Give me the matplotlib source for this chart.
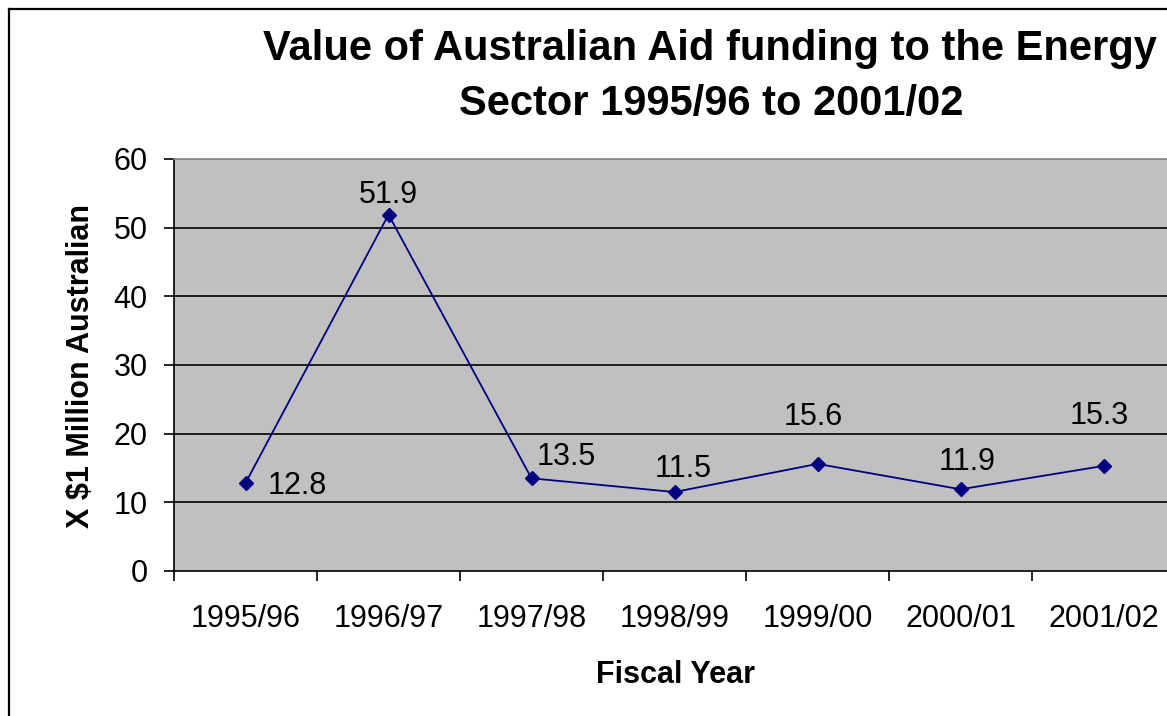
import matplotlib
matplotlib.use("Agg")
import matplotlib.pyplot as plt
from matplotlib.lines import Line2D
from matplotlib.ticker import FixedLocator, NullFormatter

categories = ["1995/96", "1996/97", "1997/98", "1998/99", "1999/00", "2000/01", "2001/02"]
values = [12.8, 51.9, 13.5, 11.5, 15.6, 11.9, 15.3]
label_texts = ["12.8", "51.9", "13.5", "11.5", "15.6", "11.9", "15.3"]
y_ticks = [0, 10, 20, 30, 40, 50, 60]

# label offsets in points (dx to text centre, dy to text baseline)
label_offsets = [(37, -8), (0, 8.6), (25, 9.4), (6.5, 10.8), (-3, 28), (5, 13.7), (-3, 30)]

plt.rcParams['font.family'] = ['Liberation Sans', 'DejaVu Sans']

W, H = 1167, 716
fig = plt.figure(figsize=(W / 100, H / 100), dpi=100)
fig.patch.set_facecolor("white")

ax = fig.add_axes([174 / W, (H - 571) / H, (1175 - 174) / W, (571 - 159) / H])
ax.set_facecolor("#C0C0C0")

x = list(range(len(categories)))
ax.plot(x, values, color="#000080", lw=1.3, marker="D", markersize=7,
        markerfacecolor="#000080", markeredgecolor="#000080", zorder=3)

for xi, v, t, (dx, dy) in zip(x, values, label_texts, label_offsets):
    ax.annotate(t, (xi, v), xytext=(dx, dy), textcoords="offset points",
                ha="center", va="baseline", fontsize=22, color="black")

ax.set_xlim(-0.5, len(categories) - 0.5)
ax.set_ylim(0, 60)
ax.set_yticks(y_ticks)
ax.set_yticklabels([str(t) for t in y_ticks], fontsize=22)
ax.set_xticks(x)
ax.set_xticklabels(categories, fontsize=22)
ax.xaxis.set_minor_locator(FixedLocator([i - 0.5 for i in range(len(categories) + 1)]))
ax.xaxis.set_minor_formatter(NullFormatter())
ax.tick_params(axis="x", which="major", length=0, pad=24)
ax.tick_params(axis="x", which="minor", length=7, width=1.2, direction="out")
ax.tick_params(axis="y", length=7, width=1.2, direction="out", pad=12)

for yv in y_ticks[1:-1]:
    ax.axhline(yv, color="black", lw=1.2, zorder=1)

ax.spines["left"].set_color("black")
ax.spines["left"].set_linewidth(1.2)
ax.spines["bottom"].set_color("black")
ax.spines["bottom"].set_linewidth(1.2)
ax.spines["top"].set_color("#808080")
ax.spines["top"].set_linewidth(1.2)
ax.spines["right"].set_visible(False)

fig.text(81 / W, 1 - 366 / H, "X $1 Million Australian", rotation=90,
         ha="center", va="center", fontsize=22, fontweight="bold")
fig.text(675 / W, 1 - 683 / H, "Fiscal Year", ha="center", va="baseline",
         fontsize=22, fontweight="bold")
fig.text(710 / W, 1 - 60 / H, "Value of Australian Aid funding to the Energy",
         ha="center", va="baseline", fontsize=30, fontweight="bold")
fig.text(711 / W, 1 - 115 / H, "Sector 1995/96 to 2001/02",
         ha="center", va="baseline", fontsize=30, fontweight="bold")

# outer chart border (left and top visible)
fig.add_artist(Line2D([8.5 / W, 8.5 / W], [0, 1 - 8.5 / H], transform=fig.transFigure,
                      color="black", lw=1.6))
fig.add_artist(Line2D([8.5 / W, 1], [1 - 8.5 / H, 1 - 8.5 / H], transform=fig.transFigure,
                      color="black", lw=1.6))

fig.savefig("out.png", dpi=100)
